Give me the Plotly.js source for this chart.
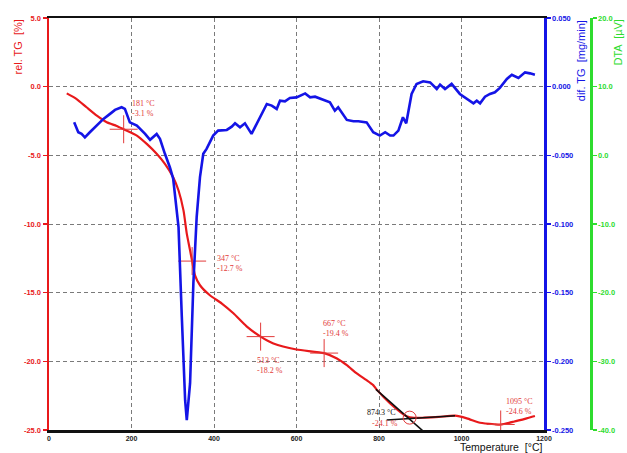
<!DOCTYPE html>
<html>
<head>
<meta charset="utf-8">
<script src="https://cdn.plot.ly/plotly-3.0.1.min.js"></script>
<style>
  html, body { margin: 0; padding: 0; background: #fff; }
  #chart { width: 627px; height: 453px; }
</style>
</head>
<body>
<div id="chart"></div>
<script>
// Relative mass loss (TG) against temperature
const tgTemp = [43, 67, 91, 116, 140, 164, 181, 213, 237, 261, 281, 301, 314, 326, 334, 342, 347, 354, 366, 390, 419, 447, 479, 513, 544, 600, 667, 698, 722, 746, 770, 786, 794, 827, 867, 885, 910, 945, 984, 1013, 1045, 1080, 1095, 1126, 1158, 1178];
const tgValue = [-0.49, -0.90, -1.50, -2.11, -2.59, -2.86, -3.10, -3.56, -4.17, -4.89, -5.62, -6.59, -7.56, -9.01, -10.70, -11.92, -12.70, -13.74, -14.46, -15.19, -15.79, -16.50, -17.45, -18.20, -18.70, -19.14, -19.40, -19.79, -20.28, -20.88, -21.37, -21.73, -22.04, -23.06, -24.00, -24.12, -24.10, -24.05, -23.96, -24.15, -24.47, -24.58, -24.60, -24.40, -24.15, -23.98];

// Differential TG (mass rate) against temperature
const dtgTemp = [61, 71, 79, 87, 99, 116, 132, 148, 160, 176, 184, 196, 213, 233, 245, 261, 269, 281, 293, 301, 314, 322, 330, 334, 342, 350, 358, 366, 374, 382, 398, 410, 431, 443, 451, 463, 475, 491, 507, 528, 540, 552, 560, 572, 584, 600, 621, 633, 645, 665, 681, 693, 701, 722, 738, 750, 770, 786, 802, 815, 827, 835, 847, 858, 866, 879, 891, 907, 924, 940, 948, 960, 976, 996, 1013, 1029, 1037, 1045, 1057, 1069, 1081, 1093, 1110, 1122, 1138, 1154, 1166, 1178];
const dtgValue = [-0.0260, -0.0332, -0.0344, -0.0369, -0.0332, -0.0284, -0.0235, -0.0198, -0.0169, -0.0150, -0.0162, -0.0260, -0.0284, -0.0344, -0.0387, -0.0344, -0.0380, -0.0489, -0.0587, -0.0669, -0.1023, -0.1677, -0.2283, -0.2428, -0.2159, -0.1432, -0.0950, -0.0659, -0.0489, -0.0453, -0.0356, -0.0320, -0.0315, -0.0291, -0.0267, -0.0296, -0.0267, -0.0344, -0.0247, -0.0126, -0.0138, -0.0162, -0.0102, -0.0107, -0.0082, -0.0078, -0.0049, -0.0078, -0.0073, -0.0097, -0.0114, -0.0174, -0.0150, -0.0242, -0.0252, -0.0252, -0.0260, -0.0332, -0.0356, -0.0332, -0.0356, -0.0356, -0.0320, -0.0223, -0.0267, -0.0053, 0.0020, 0.0039, 0.0031, -0.0017, 0.0015, -0.0017, 0.0020, -0.0053, -0.0089, -0.0121, -0.0102, -0.0121, -0.0073, -0.0053, -0.0041, -0.0009, 0.0056, 0.0087, 0.0063, 0.0104, 0.0097, 0.0087];

// Marked points on the TG curve
const markTemp = [181, 347, 513, 667, 1095];
const markValue = [-3.1, -12.7, -18.2, -19.4, -24.6];
const markTempLabels = ["181 °C", "347 °C", "513 °C", "667 °C", "1095 °C"];
const markValueLabels = ["-3.1 %", "-12.7 %", "-18.2 %", "-19.4 %", "-24.6 %"];

// Extrapolated onset: two tangents and their intersection
const tangentSlopeTemp = [792.6, 905.8];
const tangentSlopeValue = [-22.04, -25.05];
const tangentBaseTemp = [818.6, 984.2];
const tangentBaseValue = [-24.27, -23.96];
const onsetTemp = [874.3];
const onsetValue = [-24.1];
const onsetTempLabel = "874.3 °C";
const onsetValueLabel = "-24.1 %";

// Axis ticks
const tempTicks = [0, 200, 400, 600, 800, 1000, 1200];
const tgTicks = [5, 0, -5, -10, -15, -20, -25];
const dtgTicks = [0.05, 0, -0.05, -0.1, -0.15, -0.2, -0.25];
const dtaTicks = [20, 10, 0, -10, -20, -30, -40];

const RED = '#e8191b';
const MARK_RED = '#e23a3a';
const BLUE = '#1414e6';
const GREEN = '#2fdc2f';
const GRID = '#7a7a7a';
const tickFont = (c, s) => ({ family: 'Liberation Sans, Arial, sans-serif', size: s || 7.5, color: c, weight: 'bold' });
const labelFont = { family: 'Liberation Serif, Times New Roman, serif', size: 8, color: MARK_RED };

const traces = [
  { x: dtgTemp, y: dtgValue, yaxis: 'y2', mode: 'lines', line: { color: BLUE, width: 2.6 }, hoverinfo: 'skip' },
  { x: tgTemp, y: tgValue, mode: 'lines', line: { color: RED, width: 2.2, shape: 'spline', smoothing: 0.6 }, hoverinfo: 'skip' },
  { x: tangentSlopeTemp, y: tangentSlopeValue, mode: 'lines', line: { color: '#111', width: 1.6 }, hoverinfo: 'skip' },
  { x: tangentBaseTemp, y: tangentBaseValue, mode: 'lines', line: { color: '#111', width: 1.6 }, hoverinfo: 'skip' },
  { x: markTemp, y: markValue, mode: 'markers',
    marker: { symbol: 'cross-thin-open', size: 20, color: MARK_RED, line: { color: MARK_RED, width: 1 } }, hoverinfo: 'skip' },
  { x: onsetTemp, y: onsetValue, mode: 'markers',
    marker: { symbol: 'circle-open', size: 13, color: MARK_RED, line: { color: MARK_RED, width: 1 } }, hoverinfo: 'skip' }
];

// Text offsets of each mark label (in axis units)
const labelDx = [15, 55, -14, -8, 8];
const labelDy = [1.5, -0.15, -2.1, 1.8, 1.3];
const annotations = markTemp.map((t, i) => ({
  x: t + labelDx[i], y: markValue[i] + labelDy[i], xref: 'x', yref: 'y',
  text: markTempLabels[i] + '<br>' + markValueLabels[i],
  xanchor: 'left', yanchor: 'middle', align: 'left', showarrow: false, font: labelFont
}));
annotations.push(
  { x: onsetTemp[0] - 108, y: onsetValue[0] + 0.34, xref: 'x', yref: 'y', text: onsetTempLabel,
    xanchor: 'left', yanchor: 'middle', showarrow: false, font: Object.assign({}, labelFont, { color: '#111' }) },
  { x: onsetTemp[0] - 96, y: onsetValue[0] - 0.39, xref: 'x', yref: 'y', text: onsetValueLabel,
    xanchor: 'left', yanchor: 'middle', showarrow: false, font: labelFont },
  // Axis titles
  { x: -0.059, y: 1, xref: 'paper', yref: 'paper', text: 'rel. TG  [%]', textangle: -90,
    xanchor: 'center', yanchor: 'top', showarrow: false,
    font: { family: 'Liberation Sans, Arial, sans-serif', size: 11, color: RED } },
  { x: 0.981, y: 1, xref: 'paper', yref: 'paper', text: 'dif. TG  [mg/min]', textangle: -90,
    xanchor: 'center', yanchor: 'top', showarrow: false,
    font: { family: 'Liberation Sans, Arial, sans-serif', size: 11, color: BLUE } },
  { x: 1.049, y: 1, xref: 'paper', yref: 'paper', text: 'DTA  [µV]', textangle: -90,
    xanchor: 'center', yanchor: 'top', showarrow: false,
    font: { family: 'Liberation Sans, Arial, sans-serif', size: 11, color: GREEN } },
  { x: 0.834, y: -0.0583, xref: 'paper', yref: 'paper', text: 'Temperature  [°C]',
    xanchor: 'center', yanchor: 'bottom', showarrow: false, borderpad: 0,
    font: { family: 'Liberation Sans, Arial, sans-serif', size: 10.5, color: '#111' } }
);

const layout = {
  width: 627, height: 453,
  margin: { l: 49, r: 36, t: 18, b: 23, pad: 0 },
  paper_bgcolor: '#fff', plot_bgcolor: '#fff',
  showlegend: false,
  xaxis: {
    domain: [0, 495 / 542], range: [0, 1200], tickvals: tempTicks, ticktext: tempTicks.map(String),
    showline: true, mirror: true, linecolor: '#111', linewidth: 2.5,
    ticks: '', ticklabelstandoff: 0, tickfont: tickFont('#222', 7),
    showgrid: true, gridcolor: GRID, gridwidth: 1, griddash: '4px,3px', zeroline: false,
    automargin: false, fixedrange: true
  },
  yaxis: {
    range: [-25, 5], tickvals: tgTicks, ticktext: tgTicks.map(v => v.toFixed(1)),
    showline: true, linecolor: RED, linewidth: 2.5,
    ticks: 'outside', ticklen: 4, tickcolor: RED, tickwidth: 1.5, tickfont: tickFont(RED),
    showgrid: true, gridcolor: GRID, gridwidth: 1, griddash: '4px,3px', zeroline: false,
    automargin: false, fixedrange: true
  },
  yaxis2: {
    overlaying: 'y', anchor: 'x', side: 'right',
    range: [-0.25, 0.05], tickvals: dtgTicks, ticktext: dtgTicks.map(v => v.toFixed(3)),
    showline: true, linecolor: BLUE, linewidth: 2.5,
    ticks: 'outside', ticklen: 4, tickcolor: BLUE, tickwidth: 1.5, tickfont: tickFont(BLUE),
    showgrid: false, zeroline: false, automargin: false, fixedrange: true
  },
  yaxis3: {
    overlaying: 'y', anchor: 'free', position: 1, side: 'right',
    range: [-40, 20], tickvals: dtaTicks, ticktext: dtaTicks.map(v => v.toFixed(1)),
    showline: true, linecolor: GREEN, linewidth: 2.5,
    ticks: 'outside', ticklen: 4, tickcolor: GREEN, tickwidth: 1.5, tickfont: tickFont(GREEN),
    showgrid: false, zeroline: false, automargin: false, fixedrange: true
  },
  annotations: annotations
};

// DTA axis carries no curve; an empty series keeps its axis on the plot
traces.push({ x: [], y: [], yaxis: 'y3', mode: 'lines', line: { color: GREEN }, hoverinfo: 'skip' });

Plotly.newPlot('chart', traces, layout, { staticPlot: true, displayModeBar: false });
</script>
</body>
</html>
